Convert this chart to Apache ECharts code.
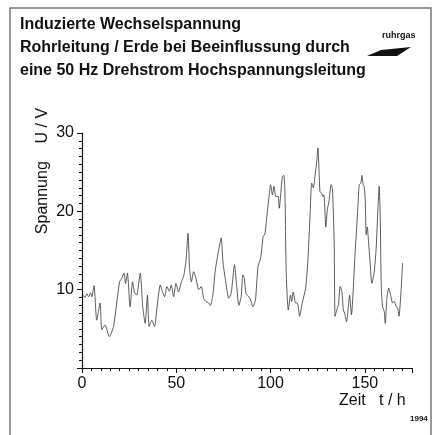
<!DOCTYPE html>
<html><head><meta charset="utf-8">
<script src="https://cdn.jsdelivr.net/npm/echarts@6/dist/echarts.min.js"></script>
<style>html,body{margin:0;padding:0;background:#fff}#c{width:434px;height:435px}</style>
</head><body><div id="c"></div>
<script>
var titleLines = ["Induzierte Wechselspannung", "Rohrleitung / Erde bei Beeinflussung durch", "eine 50 Hz Drehstrom Hochspannungsleitung"];
var xTicks = [0, 50, 100, 150];
var yTicks = [10, 20, 30];
var hours = [0.5,1.5,2.5,3.5,4.5,5.2,6.4,7.8,9.6,10.5,12.2,14.5,16.7,19.9,21.0,22.3,23.1,24.1,25.5,26.8,27.8,29.0,30.9,32.2,33.5,34.7,35.6,37.0,38.5,39.7,41.5,42.7,43.8,45.0,46.3,47.3,48.6,49.8,51.2,52.7,53.9,55.2,56.2,57.1,58.0,59.2,60.5,61.9,63.3,64.5,65.7,67.2,68.1,69.5,70.7,72.5,73.8,74.8,76.1,77.8,79.1,80.9,81.9,83.2,84.4,85.3,86.1,87.0,88.5,89.4,90.6,92.0,93.3,94.7,96.1,97.0,98.2,99.3,100.0,101.0,101.8,102.8,104.0,104.6,106.2,107.0,107.6,108.3,109.4,110.6,111.2,112.0,113.3,114.2,115.4,116.8,118.6,119.8,120.9,121.8,122.7,123.6,124.6,125.1,125.7,126.2,127.1,127.8,128.3,129.3,130.1,131.0,132.1,132.8,133.7,134.2,135.1,136.0,136.9,137.8,138.6,139.3,140.3,141.1,141.9,142.9,143.7,144.8,145.7,146.4,147.0,147.9,148.4,149.1,149.6,150.2,150.7,151.3,151.8,152.8,153.7,154.9,156.0,156.9,157.6,158.2,158.7,159.4,160.3,160.8,161.7,162.6,163.5,164.7,165.6,166.5,167.4,168.1,169.1,170.0];
var voltage = [9.3,9.0,9.5,9.1,9.6,9.1,10.5,6.1,8.3,4.9,5.5,4.0,5.3,11.0,11.4,12.1,10.8,12.1,7.8,11.0,9.7,9.3,12.1,7.8,5.7,9.3,5.3,6.1,5.3,7.6,10.6,9.7,9.1,10.4,9.8,10.6,9.1,10.8,9.7,11.0,11.7,13.8,17.2,12.5,11.0,12.3,11.4,10.0,10.4,8.9,8.5,8.3,8.0,9.5,12.5,15.1,16.6,13.4,11.2,8.9,9.5,13.2,10.8,8.0,9.1,11.9,11.4,9.5,9.1,8.7,7.8,8.7,12.9,14.0,16.8,17.1,19.8,22.1,23.4,22.1,23.2,21.9,21.9,20.4,24.4,24.6,22.7,12.1,7.4,9.3,8.5,9.7,8.3,8.3,6.6,8.3,10.2,13.8,19.3,23.6,23.0,24.6,26.6,28.1,25.3,22.5,22.3,21.9,22.1,18.0,20.2,21.3,23.4,22.9,16.3,6.6,7.4,8.1,10.4,9.8,7.4,7.0,5.9,7.5,9.3,6.8,9.3,14.6,18.0,21.0,23.4,23.6,24.6,23.4,23.2,21.5,17.0,18.0,16.6,13.4,10.8,12.1,15.3,20.2,23.2,18.9,10.4,7.8,7.2,5.7,8.9,10.2,9.5,8.3,8.5,7.9,7.6,6.6,9.5,13.4];
var xName = "Zeit   t / h";
var yName = "Spannung    U / V";
var logoText = "ruhrgas";
var yearText = "1994";

var pts = hours.map(function(h, i){ return [h, voltage[i]]; });
var chart = echarts.init(document.getElementById('c'), null, {renderer: 'canvas'});
var F = 'Liberation Sans, Arial, sans-serif';
var gfx = [
  {type:'polyline', shape:{points:[[10,436],[10,8],[431,8],[431,436]]}, style:{stroke:'#777', lineWidth:1.5, fill:null}},
  {type:'text', left:20, top:13, style:{text:titleLines.join('\n'), font:'bold 16px '+F, fill:'#111', lineHeight:23}},
  {type:'text', left:382, top:31, style:{text:logoText, font:'bold 9px '+F, fill:'#111'}},
  {type:'polygon', shape:{points:[[367,56],[397,56],[411,47],[381,50]]}, style:{fill:'#111'}},
  {type:'text', left:339, top:393, style:{text:xName, font:'16px '+F, fill:'#111'}},
  {type:'text', left:410, top:415, style:{text:yearText, font:'bold 8px '+F, fill:'#111'}},
  {type:'text', x:43, y:171, rotation:Math.PI/2, style:{text:yName, font:'16px '+F, fill:'#111', align:'center', verticalAlign:'middle'}}
];
chart.setOption({
  animation:false,
  backgroundColor:'#fff',
  grid:{left:82, right:22, top:133, bottom:67, containLabel:false},
  xAxis:{type:'value', min:0, max:175, interval:50,
    axisLine:{show:true, lineStyle:{color:'#111', width:1.2}},
    axisTick:{show:true, length:5, lineStyle:{color:'#111'}},
    minorTick:{show:true, splitNumber:10, length:3, lineStyle:{color:'#111'}},
    splitLine:{show:false},
    axisLabel:{fontSize:16, fontFamily:F, color:'#111', margin:8,
      formatter:function(v){ return xTicks.indexOf(v) >= 0 ? String(v) : ''; }}
  },
  yAxis:{type:'value', min:0, max:30, interval:10,
    axisLine:{show:true, lineStyle:{color:'#111', width:1.2}},
    axisTick:{show:true, length:5, lineStyle:{color:'#111'}},
    minorTick:{show:true, splitNumber:10, length:3, lineStyle:{color:'#111'}},
    splitLine:{show:false},
    axisLabel:{fontSize:16, fontFamily:F, color:'#111', margin:8,
      formatter:function(v){ return yTicks.indexOf(v) >= 0 ? String(v) : ''; }}
  },
  series:[{type:'line', data:pts, showSymbol:false, smooth:0.2,
    lineStyle:{color:'#333', width:0.8}}],
  graphic:gfx
});
</script></body></html>
